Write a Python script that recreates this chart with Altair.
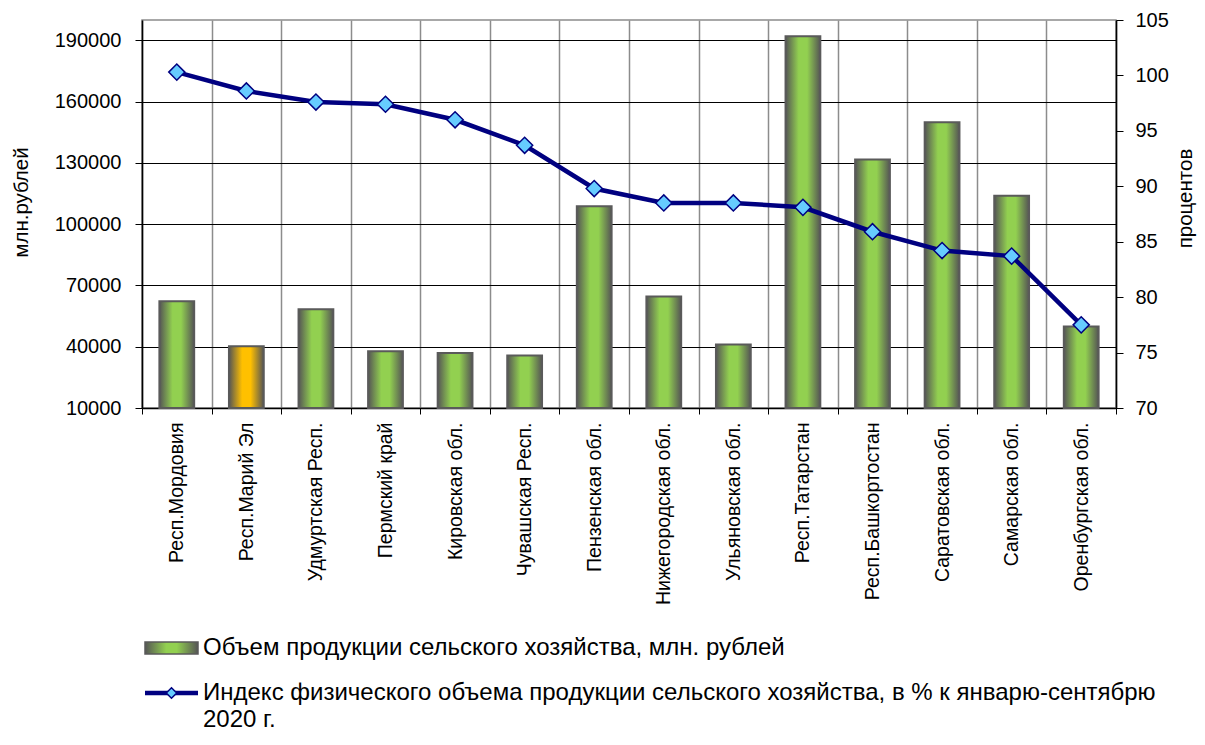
import altair as alt
import pandas as pd

categories = ["Респ.Мордовия", "Респ.Марий Эл", "Удмуртская Респ.", "Пермский край",
              "Кировская обл.", "Чувашская Респ.", "Пензенская обл.", "Нижегородская обл.",
              "Ульяновская обл.", "Респ.Татарстан", "Респ.Башкортостан", "Саратовская обл.",
              "Самарская обл.", "Оренбургская обл."]
volume = [62300, 40200, 58300, 37800, 36900, 35700, 108800, 64600, 41100,
          192000, 131700, 149900, 113900, 49900]
index_pct = [100.3, 98.6, 97.6, 97.4, 96.0, 93.7, 89.8, 88.5, 88.5,
             88.1, 85.9, 84.2, 83.7, 77.5]
highlighted = ["Респ.Марий Эл"]

left_ticks = [10000, 40000, 70000, 100000, 130000, 160000, 190000]
right_ticks = [70, 75, 80, 85, 90, 95, 100, 105]

legend_bar_label = "Объем продукции сельского хозяйства, млн. рублей"
legend_line_label = "Индекс физического объема продукции сельского хозяйства, в % к январю-сентябрю\n2020 г."

df = pd.DataFrame({
    "region": categories,
    "volume": volume,
    "index": index_pct,
    "hl": [c in highlighted for c in categories],
})

FONT = "Liberation Sans"
W, H = 974, 388

def grad(c):
    return alt.LinearGradient(
        gradient="linear", x1=0, x2=1, y1=0, y2=0,
        stops=[alt.GradientStop(offset=0, color="#555555"),
               alt.GradientStop(offset=0.38, color=c),
               alt.GradientStop(offset=0.62, color=c),
               alt.GradientStop(offset=1, color="#555555")])

x_enc = alt.X("region:N", sort=categories,
              scale=alt.Scale(paddingInner=0, paddingOuter=0),
              axis=alt.Axis(title=None, labelAngle=270, labelAlign="right", labelBaseline="middle",
                            tickBand="extent", grid=True, gridColor="#8c8c8c", gridWidth=1.5,
                            domainColor="black", domainWidth=1.5, tickColor="black", tickSize=6,
                            labelPadding=8, labelFontSize=19.5, labelLimit=400, labelColor="black"))

y_left = alt.Y("volume:Q",
               scale=alt.Scale(domain=[10000, 200000], nice=False, zero=False),
               axis=alt.Axis(values=left_ticks, format="d", title="млн.рублей",
                             titleFontSize=20.5, titleFontWeight="normal", titleColor="black",
                             titleAngle=270, titleX=-121, titleY=182,
                             titleAlign="center", titleBaseline="middle",
                             labelFontSize=20, labelColor="black", labelPadding=14,
                             grid=True, gridColor="black", gridWidth=1,
                             domainColor="black", domainWidth=1.5, tickColor="black", tickSize=7))

bars = alt.Chart(df).transform_filter("!datum.hl").mark_bar(
    fill=grad("#92D050"), stroke="#5a5a5a", strokeWidth=2,
    width=alt.RelativeBandSize(0.5)
).encode(x=x_enc, y=y_left, y2=alt.datum(10000))

bars_hl = alt.Chart(df).transform_filter("datum.hl").mark_bar(
    fill=grad("#FFC000"), stroke="#5a5a5a", strokeWidth=2,
    width=alt.RelativeBandSize(0.5)
).encode(x=x_enc,
         y=alt.Y("volume:Q", scale=alt.Scale(domain=[10000, 200000], nice=False, zero=False), axis=None),
         y2=alt.datum(10000))

y_right = alt.Y("index:Q",
                scale=alt.Scale(domain=[70, 105], nice=False, zero=False),
                axis=alt.Axis(orient="right", values=right_ticks, title="процентов",
                              titleFontSize=20.5, titleFontWeight="normal", titleColor="black",
                              titleAngle=270, titleX=69, titleY=178,
                              titleAlign="center", titleBaseline="middle",
                              labelFontSize=20, labelColor="black", labelPadding=12,
                              grid=False, domainColor="black", domainWidth=1.5,
                              tickColor="black", tickSize=7))

line = alt.Chart(df).mark_line(color="#000080", strokeWidth=4.5).encode(x=x_enc, y=y_right)
pts = alt.Chart(df).mark_point(shape="diamond", filled=True, fill="#66CCFF", stroke="#000080",
                               strokeWidth=1.5, size=260, opacity=1).encode(
    x=x_enc, y=alt.Y("index:Q", scale=alt.Scale(domain=[70, 105], nice=False, zero=False), axis=None))

leg1 = pd.DataFrame({"label": [legend_bar_label]})
leg2 = pd.DataFrame({"label": [legend_line_label]})

leg_rect = alt.Chart(leg1).mark_rect(
    fill=alt.LinearGradient(gradient="linear", x1=0, x2=1, y1=0, y2=0,
                            stops=[alt.GradientStop(offset=0, color="#555555"),
                                   alt.GradientStop(offset=0.4, color="#92D050"),
                                   alt.GradientStop(offset=0.6, color="#92D050"),
                                   alt.GradientStop(offset=1, color="#555555")]),
    stroke="#5a5a5a", strokeWidth=1.5
).encode(x=alt.value(3), x2=alt.value(56), y=alt.value(622), y2=alt.value(634))

leg_text1 = alt.Chart(leg1).mark_text(align="left", baseline="middle", fontSize=24, font=FONT,
                                      color="black").encode(
    x=alt.value(61), y=alt.value(628), text="label:N")

leg_rule = alt.Chart(leg2).mark_rule(color="#000080", strokeWidth=4.5).encode(
    x=alt.value(3), x2=alt.value(56), y=alt.value(673))
leg_pt = alt.Chart(leg2).mark_point(shape="diamond", filled=True, fill="#66CCFF", stroke="#000080",
                                    strokeWidth=1.5, size=110, opacity=1).encode(
    x=alt.value(29.5), y=alt.value(673))
leg_text2 = alt.Chart(leg2).mark_text(align="left", baseline="middle", fontSize=24, font=FONT,
                                      color="black", lineBreak="\n", lineHeight=27).encode(
    x=alt.value(61), y=alt.value(673), text="label:N")

chart = alt.layer(bars, bars_hl, line, pts, leg_rect, leg_text1, leg_rule, leg_pt, leg_text2).resolve_scale(
    y="independent"
).properties(
    width=W, height=H,
    autosize=alt.AutoSizeParams(type="none"),
    padding={"left": 134, "top": 12, "right": 81, "bottom": 329},
).configure(font=FONT).configure_view(stroke="#8c8c8c", strokeWidth=1.5)

chart.save("out.html", embed_options={"renderer": "svg", "actions": False})
